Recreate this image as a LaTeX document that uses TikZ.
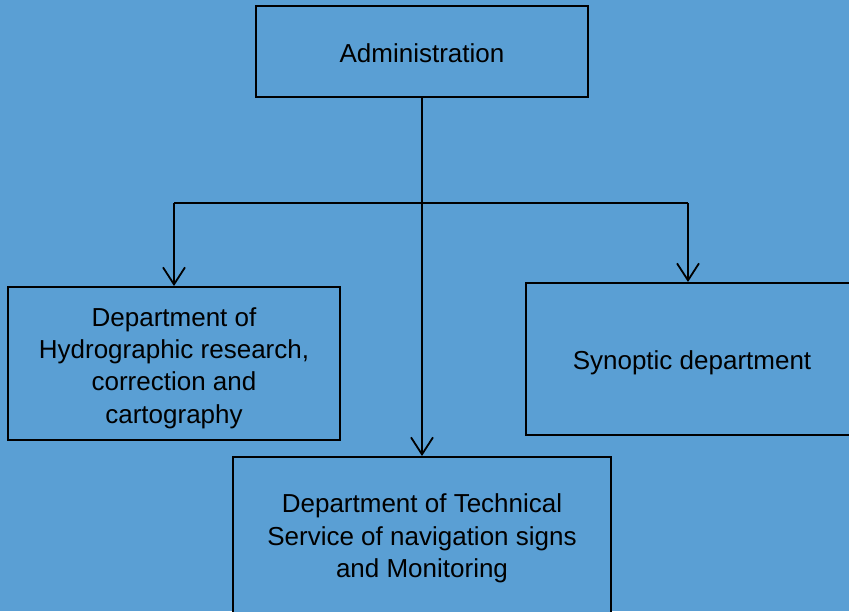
\documentclass[tikz,border=0pt]{standalone}
\usepackage{fontspec}
\setmainfont{Liberation Sans}
\usetikzlibrary{arrows.meta,calc}
\definecolor{bg}{HTML}{5A9FD4}
\tikzset{
  box/.style={draw=black, line width=2pt, fill=bg, inner sep=0pt},
  lbl/.style={align=center, inner sep=0pt, font=\fontsize{26}{32.3}\selectfont},
  conn/.style={draw=black, line width=1.8pt},
  arr/.style={conn, -{Straight Barb[length=17pt,width=22pt,line width=1.8pt]}}
}
\begin{document}
\begin{tikzpicture}[x=1pt,y=-1pt]
\useasboundingbox (0,0) rectangle (849,611);
\clip (0,0) rectangle (849,611);
\fill[bg] (0,0) rectangle (849,611);
\node[box, minimum width=332pt, minimum height=91pt] (admin) at (422,51.5) {};
\node[box, minimum width=332pt, minimum height=153pt] (left) at (174,363.5) {};
\node[box, minimum width=332pt, minimum height=152pt] (right) at (692,359) {};
\node[box, minimum width=378pt, minimum height=158pt] (bottom) at (422,536) {};
\node[lbl] (adminl) at ($(admin.center)+(0,2)$) {Administration};
\node[lbl] (leftl) at ($(left.center)+(0,4.5)$)
  {Department of\\Hydrographic research,\\correction and\\cartography};
\node[lbl] (rightl) at ($(right.center)+(0,3.5)$) {Synoptic department};
\node[lbl] (bottoml) at ($(bottom.center)+(0,2.5)$)
  {Department of Technical\\Service of navigation signs\\and Monitoring};
\coordinate (jl) at (174,203);
\coordinate (jr) at (688,203);
\draw[conn] (jl) -- (jr);
\draw[arr] (admin.south) -- (bottom.north);
\draw[arr] (jl) -- (left.north);
\draw[arr] (jr) -- (jr |- right.north);
\end{tikzpicture}
\end{document}
